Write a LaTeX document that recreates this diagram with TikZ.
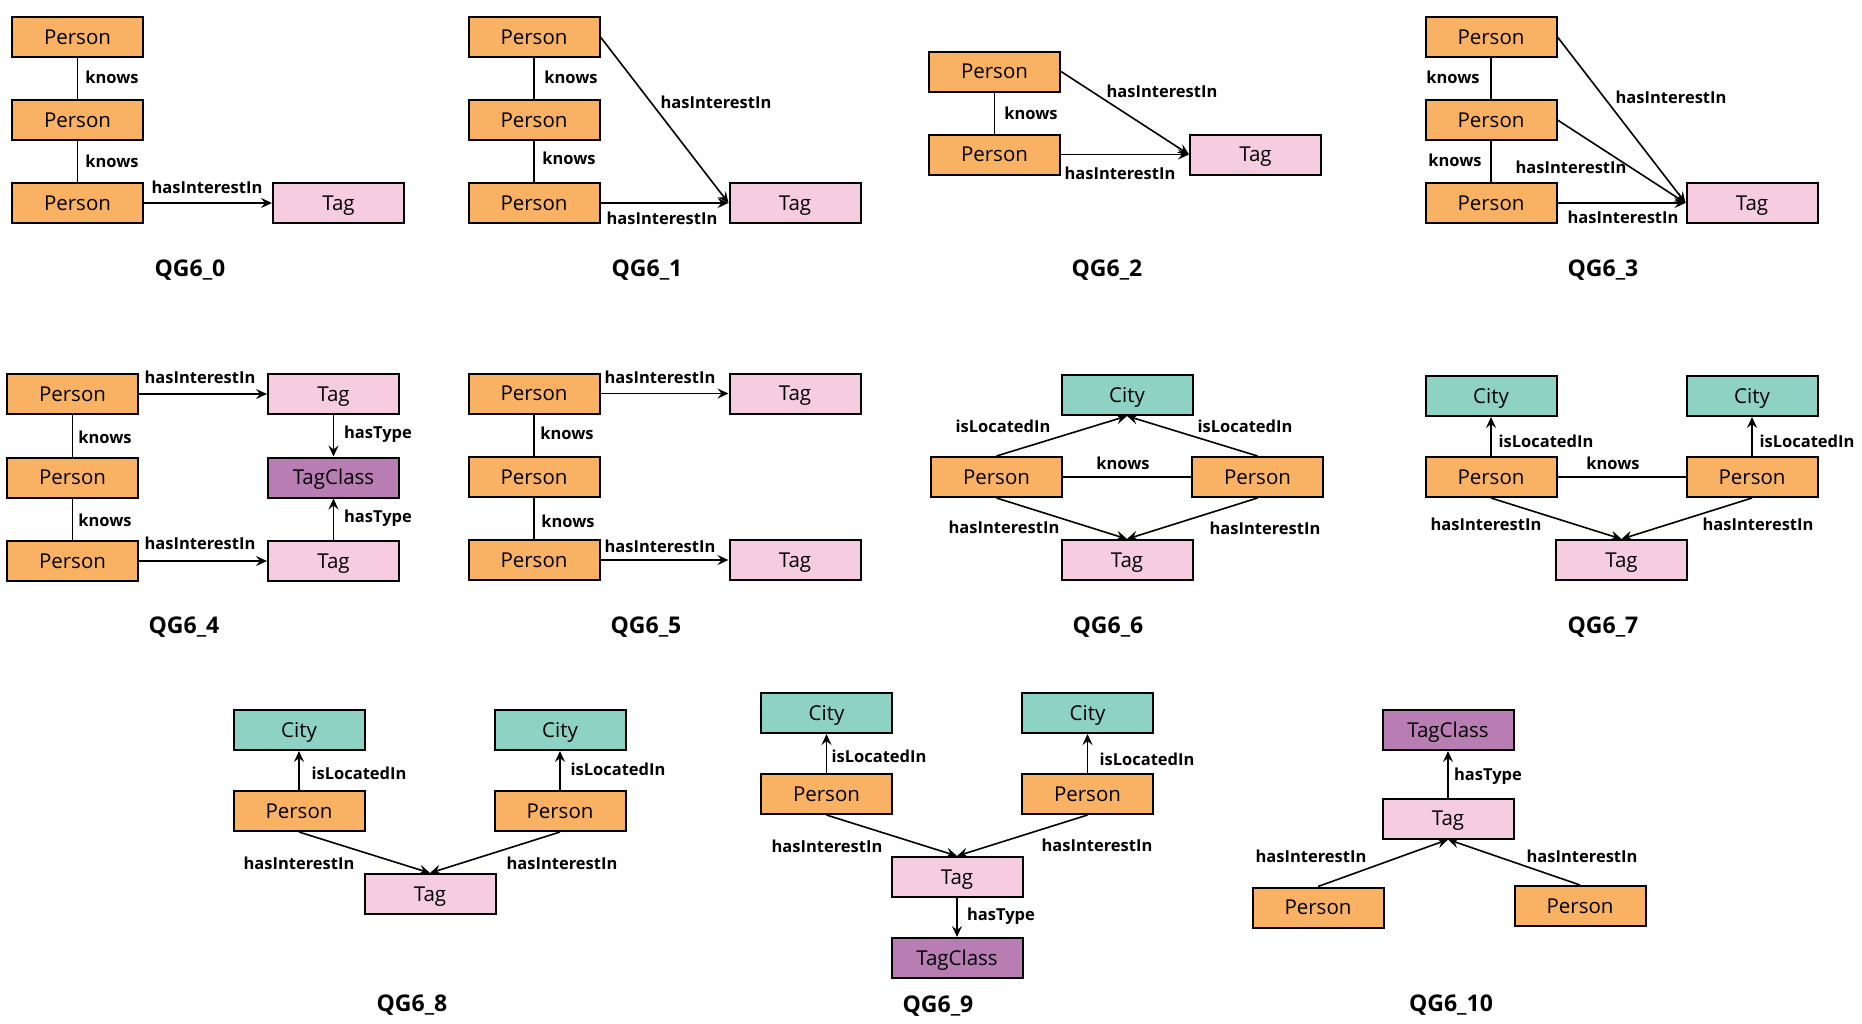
\documentclass[tikz,border=0pt]{standalone}
\usepackage{fontspec}
\setmainfont{Open Sans}
\usetikzlibrary{arrows.meta}
\definecolor{personc}{RGB}{249,178,99}
\definecolor{tagc}{RGB}{246,204,225}
\definecolor{tagclassc}{RGB}{184,126,180}
\definecolor{cityc}{RGB}{142,210,196}
\newcommand\QGnode{\fontsize{20.5}{24}\selectfont}
\newcommand\QGlbl{\fontsize{16.5}{19}\selectfont\bfseries}
\newcommand\QGttl{\fontsize{23}{26}\selectfont\bfseries}
\tikzset{
  ent/.style={draw, line width=2pt, minimum width=131pt, minimum height=40pt, inner sep=0pt, font=\QGnode, text height=14.6pt, text depth=0pt},
  person/.style={ent, fill=personc},
  tag/.style={ent, fill=tagc},
  tagclass/.style={ent, fill=tagclassc},
  city/.style={ent, fill=cityc},
  lbl/.style={font=\QGlbl, inner sep=0pt},
  ttl/.style={font=\QGttl, inner sep=0pt},
  edge/.style={line width=1.6pt},
  arr/.style={edge, -{Stealth[length=11pt,width=10pt,inset=4pt]}}
}
\begin{document}
\begin{tikzpicture}[x=1pt,y=-1pt]
\path[use as bounding box] (0,0) rectangle (1862,1023);

% ---------- QG6_0
\node[person] (a1) at (77.5,37) {Person};
\node[person] (a2) at (77.5,120) {Person};
\node[person] (a3) at (77.5,203) {Person};
\node[tag] (at) at (338.5,203) {Tag};
\draw[edge] (a1) -- (a2);
\draw[edge] (a2) -- (a3);
\draw[arr] (a3) -- (at);
\node[lbl] (al1) at (112,77) {knows};
\node[lbl] (al2) at (112,161) {knows};
\node[lbl] (al3) at (207,187) {hasInterestIn};
\node[ttl] (atl) at (190,270) {QG6\_0};

% ---------- QG6_1
\node[person] (b1) at (534,37) {Person};
\node[person] (b2) at (534,120) {Person};
\node[person] (b3) at (534,203) {Person};
\node[tag] (bt) at (795,203) {Tag};
\draw[edge] (b1) -- (b2);
\draw[edge] (b2) -- (b3);
\draw[arr] (b1.east) -- (bt.west);
\draw[arr] (b3) -- (bt);
\node[lbl] (bl1) at (571,77) {knows};
\node[lbl] (bl2) at (569,158) {knows};
\node[lbl] (bl3) at (716,102) {hasInterestIn};
\node[lbl] (bl4) at (662,218) {hasInterestIn};
\node[ttl] (btl) at (647,270) {QG6\_1};

% ---------- QG6_2
\node[person] (c1) at (994.5,71.5) {Person};
\node[person] (c2) at (994.5,154.5) {Person};
\node[tag] (ct) at (1255.5,154.5) {Tag};
\draw[edge] (c1) -- (c2);
\draw[arr] (c1.east) -- (ct.west);
\draw[arr] (c2) -- (ct);
\node[lbl] (cl1) at (1031,113) {knows};
\node[lbl] (cl2) at (1162,91) {hasInterestIn};
\node[lbl] (cl3) at (1120,173) {hasInterestIn};
\node[ttl] (ctl) at (1107,270) {QG6\_2};

% ---------- QG6_3
\node[person] (d1) at (1491,37) {Person};
\node[person] (d2) at (1491,120) {Person};
\node[person] (d3) at (1491,203) {Person};
\node[tag] (dt) at (1752,203) {Tag};
\draw[edge] (d1) -- (d2);
\draw[edge] (d2) -- (d3);
\draw[arr] (d1.east) -- (dt.west);
\draw[arr] (d2.east) -- (dt.west);
\draw[arr] (d3) -- (dt);
\node[lbl] (dl1) at (1453,77) {knows};
\node[lbl] (dl2) at (1455,160) {knows};
\node[lbl] (dl3) at (1671,97) {hasInterestIn};
\node[lbl] (dl4) at (1571,167) {hasInterestIn};
\node[lbl] (dl5) at (1623,217) {hasInterestIn};
\node[ttl] (dtl) at (1603,270) {QG6\_3};

% ---------- QG6_4
\node[person] (e1) at (72.5,394) {Person};
\node[person] (e2) at (72.5,477.5) {Person};
\node[person] (e3) at (72.5,561) {Person};
\node[tag] (et1) at (333.5,394) {Tag};
\node[tagclass] (ec) at (333.5,477.5) {TagClass};
\node[tag] (et2) at (333.5,561) {Tag};
\draw[edge] (e1) -- (e2);
\draw[edge] (e2) -- (e3);
\draw[arr] (e1) -- (et1);
\draw[arr] (e3) -- (et2);
\draw[arr] (et1) -- (ec);
\draw[arr] (et2) -- (ec);
\node[lbl] (el1) at (200,377) {hasInterestIn};
\node[lbl] (el2) at (200,543) {hasInterestIn};
\node[lbl] (el3) at (105,437) {knows};
\node[lbl] (el4) at (105,520) {knows};
\node[lbl] (el5) at (378,434) {hasType};
\node[lbl] (el6) at (378,518) {hasType};
\node[ttl] (etl) at (184,627) {QG6\_4};

% ---------- QG6_5
\node[person] (f1) at (534,393.5) {Person};
\node[person] (f2) at (534,477) {Person};
\node[person] (f3) at (534,560) {Person};
\node[tag] (ft1) at (795,393.5) {Tag};
\node[tag] (ft2) at (795,560) {Tag};
\draw[edge] (f1) -- (f2);
\draw[edge] (f2) -- (f3);
\draw[arr] (f1) -- (ft1);
\draw[arr] (f3) -- (ft2);
\node[lbl] (fl1) at (660,377) {hasInterestIn};
\node[lbl] (fl2) at (660,546) {hasInterestIn};
\node[lbl] (fl3) at (567,433) {knows};
\node[lbl] (fl4) at (568,521) {knows};
\node[ttl] (ftl) at (646,627) {QG6\_5};

% ---------- QG6_6
\node[city] (gc) at (1127,395) {City};
\node[person] (g1) at (996.5,477) {Person};
\node[person] (g2) at (1257.5,477) {Person};
\node[tag] (gt) at (1127,560) {Tag};
\draw[arr] (g1.north) -- (gc.south);
\draw[arr] (g2.north) -- (gc.south);
\draw[edge] (g1) -- (g2);
\draw[arr] (g1.south) -- (gt.north);
\draw[arr] (g2.south) -- (gt.north);
\node[lbl] (gl1) at (1003,426) {isLocatedIn};
\node[lbl] (gl2) at (1245,426) {isLocatedIn};
\node[lbl] (gl3) at (1123,463) {knows};
\node[lbl] (gl4) at (1004,527) {hasInterestIn};
\node[lbl] (gl5) at (1265,528) {hasInterestIn};
\node[ttl] (gtl) at (1108,627) {QG6\_6};

% ---------- QG6_7
\node[city] (hc1) at (1491,396) {City};
\node[city] (hc2) at (1752,396) {City};
\node[person] (h1) at (1491,477) {Person};
\node[person] (h2) at (1752,477) {Person};
\node[tag] (ht) at (1621.5,560) {Tag};
\draw[arr] (h1) -- (hc1);
\draw[arr] (h2) -- (hc2);
\draw[edge] (h1) -- (h2);
\draw[arr] (h1.south) -- (ht.north);
\draw[arr] (h2.south) -- (ht.north);
\node[lbl] (hl1) at (1546,441) {isLocatedIn};
\node[lbl] (hl2) at (1807,441) {isLocatedIn};
\node[lbl] (hl3) at (1613,463) {knows};
\node[lbl] (hl4) at (1486,524) {hasInterestIn};
\node[lbl] (hl5) at (1758,524) {hasInterestIn};
\node[ttl] (htl) at (1603,627) {QG6\_7};

% ---------- QG6_8
\node[city] (ic1) at (299,730) {City};
\node[city] (ic2) at (560,730) {City};
\node[person] (i1) at (299,811) {Person};
\node[person] (i2) at (560,811) {Person};
\node[tag] (it) at (430,894) {Tag};
\draw[arr] (i1) -- (ic1);
\draw[arr] (i2) -- (ic2);
\draw[arr] (i1.south) -- (it.north);
\draw[arr] (i2.south) -- (it.north);
\node[lbl] (il1) at (359,773) {isLocatedIn};
\node[lbl] (il2) at (618,769) {isLocatedIn};
\node[lbl] (il3) at (299,863) {hasInterestIn};
\node[lbl] (il4) at (562,863) {hasInterestIn};
\node[ttl] (itl) at (412,1005) {QG6\_8};

% ---------- QG6_9
\node[city] (jc1) at (826.5,713) {City};
\node[city] (jc2) at (1087.5,713) {City};
\node[person] (j1) at (826.5,794) {Person};
\node[person] (j2) at (1087.5,794) {Person};
\node[tag] (jt) at (957,877) {Tag};
\node[tagclass] (jk) at (957,958) {TagClass};
\draw[arr] (j1) -- (jc1);
\draw[arr] (j2) -- (jc2);
\draw[arr] (j1.south) -- (jt.north);
\draw[arr] (j2.south) -- (jt.north);
\draw[arr] (jt) -- (jk);
\node[lbl] (jl1) at (879,756) {isLocatedIn};
\node[lbl] (jl2) at (1147,759) {isLocatedIn};
\node[lbl] (jl3) at (827,846) {hasInterestIn};
\node[lbl] (jl4) at (1097,845) {hasInterestIn};
\node[lbl] (jl5) at (1001,916) {hasType};
\node[ttl] (jtl) at (938,1006) {QG6\_9};

% ---------- QG6_10
\node[tagclass] (kc) at (1448,730) {TagClass};
\node[tag] (kt) at (1448,818.5) {Tag};
\node[person] (k1) at (1318,907.5) {Person};
\node[person] (k2) at (1580,906) {Person};
\draw[arr] (kt) -- (kc);
\draw[arr] (k1.north) -- (kt.south);
\draw[arr] (k2.north) -- (kt.south);
\node[lbl] (kl1) at (1488,776) {hasType};
\node[lbl] (kl2) at (1311,856) {hasInterestIn};
\node[lbl] (kl3) at (1582,856) {hasInterestIn};
\node[ttl] (ktl) at (1451,1005) {QG6\_10};
\end{tikzpicture}
\end{document}
